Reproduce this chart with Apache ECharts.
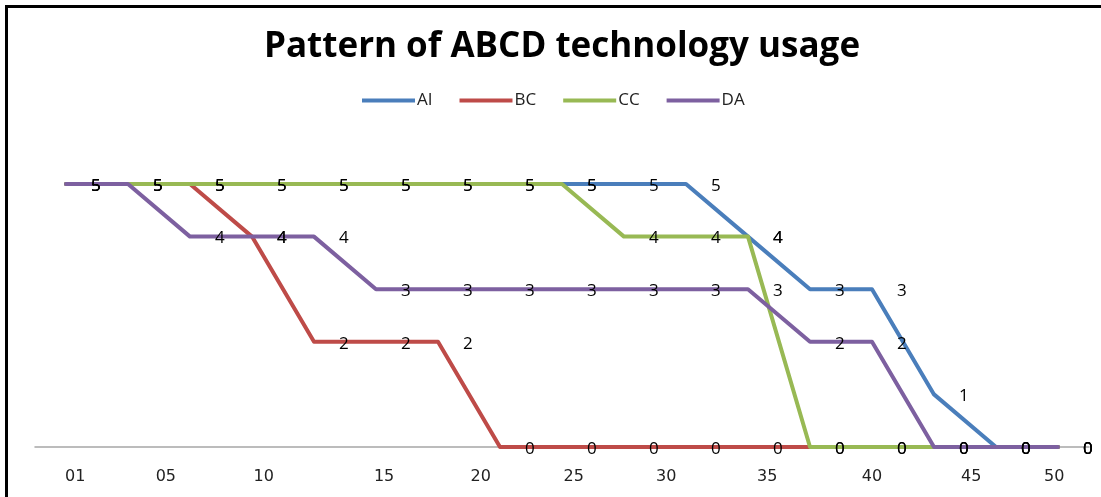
<!DOCTYPE html>
<html>
<head>
<meta charset="utf-8">
<script src="https://cdn.jsdelivr.net/npm/echarts@6/dist/echarts.min.js"></script>
<style>
  html, body { margin: 0; padding: 0; background: #fff; }
  #chart { width: 1101px; height: 497px; }
</style>
</head>
<body>
<div id="chart"></div>
<script>
// Usage level per survey step (17 steps) for each technology
const steps = ['1','2','3','4','5','6','7','8','9','10','11','12','13','14','15','16','17'];
const seriesNames = ['AI', 'BC', 'CC', 'DA'];
const aiValues = [5, 5, 5, 5, 5, 5, 5, 5, 5, 5, 5, 4, 3, 3, 1, 0, 0];
const bcValues = [5, 5, 5, 4, 2, 2, 2, 0, 0, 0, 0, 0, 0, 0, 0, 0, 0];
const ccValues = [5, 5, 5, 5, 5, 5, 5, 5, 5, 4, 4, 4, 0, 0, 0, 0, 0];
const daValues = [5, 5, 4, 4, 4, 3, 3, 3, 3, 3, 3, 3, 2, 2, 0, 0, 0];

// Bottom tick texts and where along the step axis each one sits
const tickLabels = ['01', '05', '10', '15', '20', '25', '30', '35', '40', '45', '50'];
const tickSlots = [0.15, 1.61, 3.19, 5.13, 6.69, 8.19, 9.68, 11.31, 13.0, 14.6, 15.94];

const colors = ['#4A7EBB', '#BE4B48', '#98B954', '#7D60A0'];
const valueSets = [aiValues, bcValues, ccValues, daValues];

const chart = echarts.init(document.getElementById('chart'), null, { renderer: 'canvas' });

const series = seriesNames.map((name, i) => ({
  name: name,
  type: 'line',
  xAxisIndex: 0,
  yAxisIndex: 0,
  data: valueSets[i],
  color: colors[i],
  symbol: 'circle',
  symbolSize: 0,
  lineStyle: { width: 4, color: colors[i], cap: 'round', join: 'round' },
  label: {
    show: true,
    position: 'right',
    distance: 25,
    color: '#000',
    fontFamily: 'Open Sans',
    fontSize: 17,
    offset: [0, 2]
  },
  emphasis: { disabled: true },
  animation: false
}));

chart.setOption({
  animation: false,
  backgroundColor: '#fff',
  title: {
    text: 'Pattern of ABCD technology usage',
    left: 557,
    top: 25,
    textAlign: 'center',
    textStyle: {
      fontFamily: 'Open Sans',
      fontWeight: 'bold',
      fontSize: 35,
      color: '#000'
    }
  },
  legend: {
    data: seriesNames,
    left: 357,
    top: 87,
    icon: 'rect',
    itemWidth: 53,
    itemHeight: 4,
    itemGap: 27,
    textStyle: { fontFamily: 'Open Sans', fontSize: 17, color: '#222', padding: [0, 0, 0, -3] }
  },
  grid: { left: 35, right: 12, top: 131.4, bottom: 50, containLabel: false },
  xAxis: [
    {
      type: 'category',
      data: steps,
      boundaryGap: true,
      axisLine: { show: true, lineStyle: { color: '#A6A6A6', width: 1.5 } },
      axisTick: { show: false },
      axisLabel: { show: false },
      splitLine: { show: false }
    },
    {
      type: 'value',
      position: 'bottom',
      min: -0.5,
      max: 16.5,
      axisLine: { show: false },
      axisTick: { show: false },
      splitLine: { show: false },
      axisLabel: {
        show: true,
        customValues: tickSlots,
        margin: 22,
        fontFamily: 'DejaVu Sans',
        fontSize: 16,
        color: '#222',
        formatter: function (v) {
          let best = 0;
          for (let k = 1; k < tickSlots.length; k++) {
            if (Math.abs(tickSlots[k] - v) < Math.abs(tickSlots[best] - v)) best = k;
          }
          return tickLabels[best];
        }
      }
    }
  ],
  yAxis: {
    type: 'value',
    min: 0,
    max: 6,
    interval: 1,
    axisLine: { show: false },
    axisTick: { show: false },
    axisLabel: { show: false },
    splitLine: { show: false }
  },
  graphic: [
    {
      type: 'polyline',
      shape: { points: [[6.5, 497], [6.5, 6.5], [1101, 6.5]] },
      style: { stroke: '#000', lineWidth: 3, fill: null },
      silent: true
    }
  ],
  series: series
});
</script>
</body>
</html>
